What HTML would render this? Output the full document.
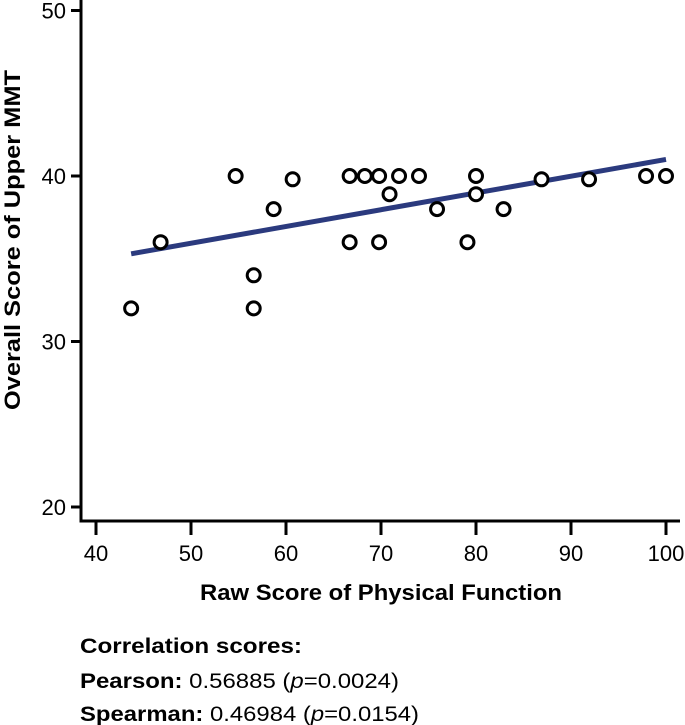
<!DOCTYPE html>
<html><head><meta charset="utf-8"><style>
body{margin:0;background:#fff;font-family:"Liberation Sans",Arial,sans-serif}
svg{display:block}
</style></head><body>
<svg width="685" height="725">
<g id="axes"></g><g id="marks"></g>
<text x="200" y="600" textLength="362" lengthAdjust="spacingAndGlyphs" font-size="22" font-weight="bold">Raw Score of Physical Function</text>
<text transform="translate(20,410) rotate(-90)" textLength="340" lengthAdjust="spacingAndGlyphs" font-size="22" font-weight="bold">Overall Score of Upper MMT</text>
<text x="80" y="653" textLength="222" lengthAdjust="spacingAndGlyphs" font-size="21" font-weight="bold">Correlation scores:</text>
<text x="80" y="688" textLength="319" lengthAdjust="spacingAndGlyphs" font-size="21"><tspan font-weight="bold">Pearson:</tspan> 0.56885 (<tspan font-style="italic">p</tspan>=0.0024)</text>
<text x="80" y="721" textLength="339" lengthAdjust="spacingAndGlyphs" font-size="21"><tspan font-weight="bold">Spearman:</tspan> 0.46984 (<tspan font-style="italic">p</tspan>=0.0154)</text>
</svg>
<script>
const xVals=[43.7,46.8,54.7,56.6,56.6,58.7,60.7,66.7,66.7,68.3,69.8,69.8,70.9,71.9,74,75.9,79.1,80,80,82.9,86.9,91.9,97.9,100];
const yVals=[32,36,40,34,32,38,39.8,40,36,40,40,36,38.9,40,40,38,36,40,38.9,38,39.8,39.8,40,40];
const xTicks=[40,50,60,70,80,90,100];
const yTicks=[20,30,40,50];
const fitX=[43.7,100];
const fitY=[35.3,41];
const NS="http://www.w3.org/2000/svg";
const sx=v=>96+(v-40)*9.5;
const sy=v=>507-(v-20)*16.55;
function mk(t,a,p){const e=document.createElementNS(NS,t);for(const k in a)e.setAttribute(k,a[k]);p.appendChild(e);return e;}
const ax=document.getElementById('axes'),mg=document.getElementById('marks');
let e=mk('line',{x1:81,y1:0,x2:81,y2:522,stroke:'#000','stroke-width':3},ax);


e=mk('line',{x1:79.5,y1:521,x2:680,y2:521,stroke:'#000','stroke-width':3},ax);


xTicks.forEach(v=>{
 let t=mk('line',{x1:sx(v),y1:522,x2:sx(v),y2:535,stroke:'#000','stroke-width':3},ax);
 
 
 let l=mk('text',{x:sx(v),y:561,'text-anchor':'middle','font-size':22},ax);l.textContent=v;
 
 
});
yTicks.forEach(v=>{
 let t=mk('line',{x1:71,y1:sy(v),x2:81,y2:sy(v),stroke:'#000','stroke-width':3},ax);
 
 
 let l=mk('text',{x:66,y:sy(v)+8,'text-anchor':'end','font-size':22},ax);l.textContent=v;
 
 
});
let fl=mk('line',{x1:sx(fitX[0]),y1:sy(fitY[0]),x2:sx(fitX[1]),y2:sy(fitY[1]),stroke:'#2b3a7e','stroke-width':5},mg);


xVals.forEach((x,i)=>{
 let c=mk('circle',{cx:sx(x),cy:sy(yVals[i]),r:6.5,fill:'#fff',stroke:'#000','stroke-width':3},mg);
 
 
});
</script>
</body></html>
